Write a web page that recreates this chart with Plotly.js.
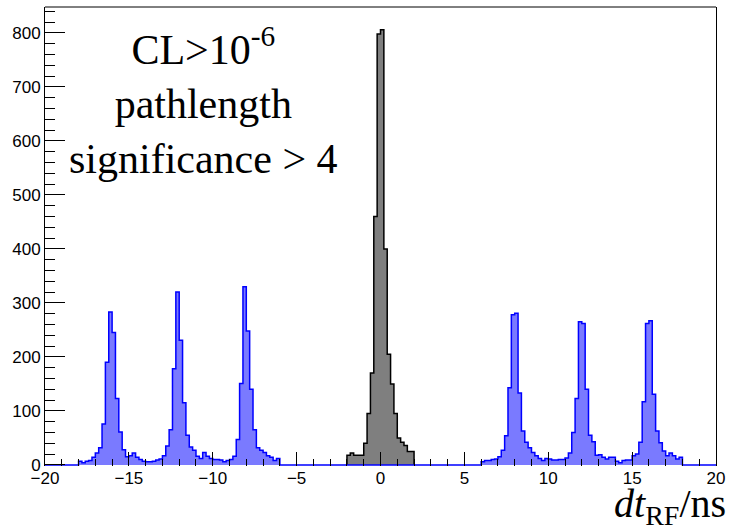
<!DOCTYPE html>
<html><head><meta charset="utf-8">
<script src="https://cdn.plot.ly/plotly-3.0.1.min.js"></script>
<style>html,body{margin:0;padding:0;background:#fff}</style>
</head><body>
<div id="chart" style="width:731px;height:525px"></div>
<script>
// histogram binning (ns)
const binWidth = 0.2;
const fullStart = -20;
const fullEnd = 20;

// out-of-time bunches, left side: bins from -18 to -6 ns
const leftStart = -18;
const leftCounts = [7, 4, 7, 8, 14, 22, 32, 76, 190, 283,
                    245, 123, 61, 28, 15, 17, 22, 14, 10, 7,
                    6, 6, 7, 9, 11, 17, 35, 65, 178, 320,
                    231, 115, 55, 33, 27, 16, 12, 23, 16, 12,
                    10, 10, 9, 6, 8, 10, 16, 47, 151, 330,
                    248, 140, 65, 32, 27, 23, 17, 14, 8, 12];

// in-time bunch: bins from -2 to 2 ns
const centralStart = -2;
const centralCounts = [18, 22, 18, 18, 18, 40, 95, 170, 460, 798,
                       806, 400, 205, 150, 95, 50, 42, 36, 25, 25];

// out-of-time bunches, right side: bins from 6 to 18 ns
const rightStart = 6;
const rightCounts = [6, 8, 8, 10, 11, 15, 27, 54, 143, 278,
                     281, 133, 63, 42, 32, 23, 17, 12, 8, 12,
                     11, 9, 9, 10, 10, 13, 22, 60, 123, 265,
                     262, 140, 55, 43, 18, 19, 14, 11, 14, 14,
                     7, 4, 8, 9, 9, 17, 20, 42, 117, 262,
                     267, 131, 63, 41, 26, 17, 22, 17, 11, 14];

const annotationText = 'CL&gt;10<sup>-6</sup><br>pathlength<br>significance &gt; 4';
const axisTitleText = '<i>dt</i><sub>RF</sub>/ns';

// full-range blue histogram (empty bins are zero)
function placeInRange(start, counts) {
  const n = Math.round((fullEnd - fullStart) / binWidth);
  const arr = new Array(n).fill(0);
  const off = Math.round((start - fullStart) / binWidth);
  counts.forEach((c, i) => { arr[off + i] = c; });
  return arr;
}
const blueFull = placeInRange(leftStart, leftCounts);
placeInRange(rightStart, rightCounts).forEach((c, i) => { if (c) blueFull[i] = c; });

function steps(start, counts) {
  const x = [start], y = [0];
  counts.forEach((c, i) => { x.push(start + i * binWidth); y.push(c); });
  const end = start + counts.length * binWidth;
  x.push(end); y.push(counts[counts.length - 1]);
  x.push(end); y.push(0);
  return {x, y};
}

const blk = steps(centralStart, centralCounts);
const blu = steps(fullStart, blueFull);

const traces = [
  {
    type: 'scatter', mode: 'lines', x: blk.x, y: blk.y,
    line: {shape: 'hv', color: '#000000', width: 1.5},
    fill: 'tozeroy', fillcolor: '#7f7f7f',
    hoverinfo: 'skip'
  },
  {
    type: 'scatter', mode: 'lines', x: blu.x, y: blu.y,
    line: {shape: 'hv', color: '#0000ff', width: 1.5},
    fill: 'tozeroy', fillcolor: '#7a7aff',
    hoverinfo: 'skip'
  }
];

const tickFont = {family: 'Liberation Sans, Arial, sans-serif', size: 17, color: '#000000'};

const layout = {
  width: 731, height: 525,
  margin: {l: 45, r: 15, t: 7, b: 59},
  paper_bgcolor: '#ffffff', plot_bgcolor: '#ffffff',
  showlegend: false,
  xaxis: {
    range: [fullStart, fullEnd], tick0: 0, dtick: 5,
    ticks: 'inside', ticklen: 14, tickwidth: 1, tickcolor: '#000000',
    minor: {ticks: 'inside', ticklen: 7, dtick: 1, tickwidth: 1, tickcolor: '#000000'},
    showgrid: false, zeroline: false, showline: false,
    tickfont: tickFont
  },
  yaxis: {
    range: [-2, 848], tick0: 0, dtick: 100,
    ticks: 'inside', ticklen: 20, tickwidth: 1, tickcolor: '#000000',
    minor: {ticks: 'inside', ticklen: 10, dtick: 20, tickwidth: 1, tickcolor: '#000000'},
    showgrid: false, zeroline: false, showline: true, mirror: true,
    linecolor: '#000000', linewidth: 1,
    tickfont: tickFont
  },
  shapes: [
    {type: 'line', xref: 'paper', yref: 'paper', x0: 0, x1: 1, y0: 1, y1: 1,
     line: {color: '#000000', width: 1}}
  ],
  annotations: [
    {text: annotationText, xref: 'paper', yref: 'paper', x: 0.236, y: 0.795,
     xanchor: 'center', yanchor: 'middle', showarrow: false,
     font: {family: 'Liberation Serif, Times New Roman, serif', size: 42, color: '#000000'}},
    {text: axisTitleText, xref: 'paper', yref: 'paper', x: 1.018, y: -0.088,
     xanchor: 'right', yanchor: 'middle', showarrow: false,
     font: {family: 'Liberation Serif, Times New Roman, serif', size: 40, color: '#000000'}}
  ]
};

Plotly.newPlot('chart', traces, layout, {displayModeBar: false, staticPlot: true});
</script>
</body></html>
